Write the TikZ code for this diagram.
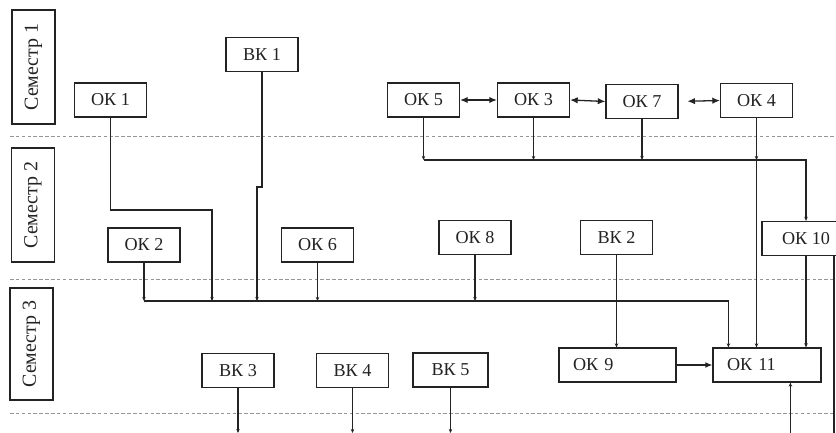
\documentclass[tikz,border=0pt]{standalone}
\usepackage{fontspec}
\setmainfont{Liberation Serif}
\usetikzlibrary{arrows.meta, calc}
\definecolor{inkline}{RGB}{35,35,35}
\definecolor{sepgray}{RGB}{150,150,150}

\tikzset{
  course/.style={draw=inkline, line width=1pt, inner sep=0pt, text=inkline,
    minimum width=2.16cm, minimum height=1.02cm, font=\fontsize{15.5}{17}\selectfont},
  widebox/.style={course, align=left, inner xsep=0.42cm, text width=#1},
  semlabel/.style={draw=inkline, line width=1pt, inner sep=0pt, rotate=90, text=inkline,
    minimum width=3.42cm, minimum height=1.29cm, font=\fontsize{17}{19}\selectfont},
  plainline/.style={draw=inkline, line width=1.1pt},
  feed/.style={plainline, -{Stealth[length=3.5pt,width=3pt]}},
  link/.style={plainline, -{Latex[length=6pt,width=5pt]}},
  twoway/.style={plainline, {Latex[length=6.5pt,width=5.5pt]}-{Latex[length=6.5pt,width=5.5pt]}},
  semline/.style={sepgray, line width=0.6pt, densely dashed}
}

\begin{document}
\begin{tikzpicture}[x=0.03cm, y=-0.03cm]
  \clip (0,0) rectangle (836,433);
  % Semester separators
  \foreach \yy in {136,279,413}
    \draw[semline] (10,\yy) -- (836,\yy);
  % Semester labels
  \node[semlabel] (sem1) at (33.5,67) {Семестр 1};
  \node[semlabel] (sem2) at (33,205) {Семестр 2};
  \node[semlabel, minimum width=3.36cm] (sem3) at (31.5,344) {Семестр 3};
  % Semester 1 courses
  \node[course] (ok1) at (110.5,100) {ОК 1};
  \node[course] (vk1) at (262,54.5) {ВК 1};
  \node[course] (ok5) at (423.5,100) {ОК 5};
  \node[course] (ok3) at (533.5,100) {ОК 3};
  \node[course] (ok7) at (642,101.5) {ОК 7};
  \node[course] (ok4) at (756.5,100.5) {ОК 4};
  % Semester 2 courses
  \node[course] (ok2) at (144,245) {ОК 2};
  \node[course] (ok6) at (317.5,245) {ОК 6};
  \node[course] (ok8) at (475,237.5) {ОК 8};
  \node[course] (vk2) at (616.5,237.5) {ВК 2};
  \node[course, minimum width=2.64cm] (ok10) at (806,238.5) {ОК 10};
  % Semester 3 courses
  \node[course] (vk3) at (238,370.5) {ВК 3};
  \node[course] (vk4) at (352.5,370.5) {ВК 4};
  \node[course, minimum width=2.25cm] (vk5) at (450.5,370) {ВК 5};
  \node[widebox=2.67cm] (ok9) at (617.5,365) {ОК 9};
  \node[widebox=2.4cm] (ok11) at (767,365) {ОК 11};
  % Helper points
  \coordinate (busA) at (0,160);
  \coordinate (busB) at (0,301);
  \coordinate (edgeS) at (0,433);
  \coordinate (jogA) at (212,210);
  \coordinate (jogB) at (257,187);
  \coordinate (inA) at ($(ok11.north west)+(16,0)$);
  \coordinate (outB) at ($(ok11.south west)+(78,0)$);
  \coordinate (rimR) at (834,0);
  % Links inside semester 1
  \draw[twoway] (ok5.east) -- (ok3.west);
  \draw[twoway] (ok3.east) -- (ok7.west);
  \draw[twoway, shorten <=7.5pt] (ok7.east) -- (ok4.west);
  % Upper bus
  \foreach \src in {ok5,ok3,ok7,ok4}
    \draw[feed] (\src.south) -- (\src.south |- busA);
  \draw[feed] (ok5.south |- busA) -| (ok10.north);
  \draw[feed] (ok4.south |- busA) -- (ok4.south |- ok11.north);
  % Lower bus
  \draw[feed] (ok1.south) |- (jogA) -- (jogA |- busB);
  \draw[feed] (vk1.south) -- (vk1.south |- jogB) -- (jogB) -- (jogB |- busB);
  \foreach \src in {ok2,ok6,ok8}
    \draw[feed] (\src.south) -- (\src.south |- busB);
  \draw[feed] (ok2.south |- busB) -| (inA);
  % Into semester 3
  \draw[feed] (ok10.south) -- (ok10.south |- ok11.north);
  \draw[feed] (vk2.south) -- (vk2.south |- ok9.north);
  \draw[link] (ok9.east) -- (ok11.west);
  \draw[feed] (outB |- edgeS) -- (outB);
  \draw[plainline] (rimR |- ok10.south) -- (rimR |- edgeS);
  \foreach \src in {vk3,vk4,vk5}
    \draw[feed] (\src.south) -- (\src.south |- edgeS);
\end{tikzpicture}
\end{document}
